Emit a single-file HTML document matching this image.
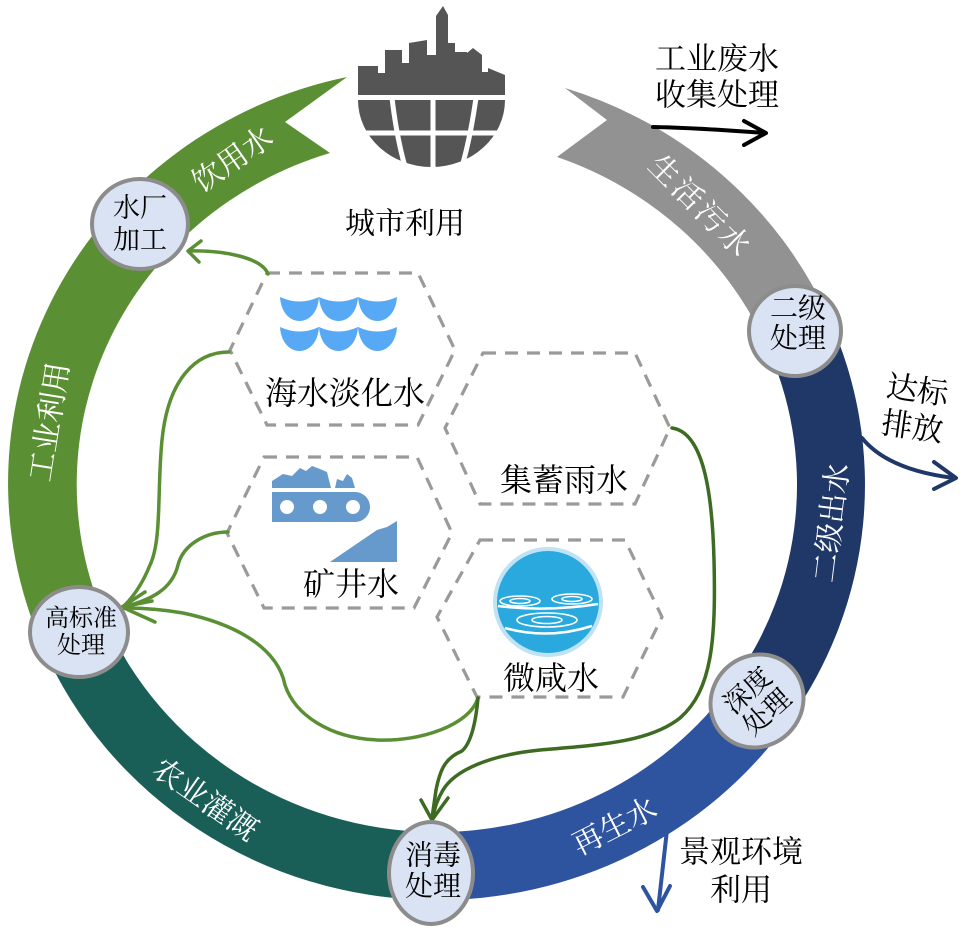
<!DOCTYPE html>
<html><head><meta charset="utf-8"><style>
html,body{margin:0;padding:0;background:#fff;}
svg{display:block;}
text{font-family:"Liberation Serif","Noto Serif CJK SC",serif;}
</style></head><body>
<svg width="968" height="932" viewBox="0 0 968 932" xmlns="http://www.w3.org/2000/svg">
<!-- ring segments -->
<path d="M565,88 A428,415 0 0 1 828,316.2 L765.9,343.9 A360,347 0 0 0 557,157 L607,120 Z" fill="#929292"/>
<path d="M828,316.2 A428,415 0 0 1 788,722.4 L732.3,683.5 A360,347 0 0 0 765.9,343.9 Z" fill="#1f3868"/>
<path d="M788,722.4 A428,415 0 0 1 430.3,900 L431.3,832 A360,347 0 0 0 732.3,683.5 Z" fill="#2e54a0"/>
<path d="M430.3,900 A428,415 0 0 1 43,647.1 L105.6,620.6 A360,347 0 0 0 431.3,832 Z" fill="#1a5e58"/>
<path d="M43,647.1 A428,415 0 0 1 347,77 L285,122 L330,153 A360,347 0 0 0 105.6,620.6 Z" fill="#5a8f33"/>

<!-- band labels -->
<g fill="#fff" font-size="30">
<text x="233" y="160" text-anchor="middle" dominant-baseline="central" transform="rotate(-35 233 160)">饮用水</text>
<text x="50" y="422" text-anchor="middle" dominant-baseline="central" transform="rotate(-81 50 422)">工业利用</text>
<text x="205" y="800" text-anchor="middle" dominant-baseline="central" transform="rotate(35 205 800)">农业灌溉</text>
<text x="615" y="827" text-anchor="middle" dominant-baseline="central" transform="rotate(-27 615 827)">再生水</text>
<text x="832" y="523" text-anchor="middle" dominant-baseline="central" transform="rotate(-83 832 523)">二级出水</text>
<text x="700" y="207" text-anchor="middle" dominant-baseline="central" letter-spacing="3" transform="rotate(45 700 207)">生活污水</text>
</g>

<!-- city icon -->
<g fill="#555">
<polygon points="358,95 358,66 378,66 378,73 385,73 385,50 402,50 402,63 409,63 409,43 427,40 427,55 436,55 436,16 443,6 448,15 448,43 455,43 455,52 467,52 467,53 473,48 482,55 482,72 488,72 488,68 505,75 505,95"/>
<path d="M358,100 L505,100 A73.5,67 0 0 1 358,100 Z"/>
</g>
<g stroke="#fff" stroke-width="5" fill="none">
<line x1="355" y1="133" x2="508" y2="133"/>
<line x1="433" y1="98" x2="433" y2="170"/>
<path d="M392,98 Q397,140 406,170"/>
<path d="M476,98 Q470,140 461,170"/>
</g>
<text x="405" y="224" font-size="30" text-anchor="middle" dominant-baseline="central" fill="#000">城市利用</text>

<!-- hexagons -->
<g fill="none" stroke="#9a9a9a" stroke-width="3.2" stroke-dasharray="13 9">
<polygon points="267,273 418,273 455,350 418,425 267,425 230,350"/>
<polygon points="264,457 417,457 452,533 414,608 264,608 227,533"/>
<polygon points="483,353 635,353 670,428 635,504 480,504 445,428"/>
<polygon points="480,540 625,540 662,617 623,697 477,697 437,617"/>
</g>

<!-- wave icon -->
<g fill="#58a9f5">
<path d="M280,297 Q299.5,306 319,297 C317,329 282,329 280,297 Z"/>
<path d="M319,297 Q338.5,306 358,297 C356,329 321,329 319,297 Z"/>
<path d="M358,297 Q377.5,306 397,297 C395,329 360,329 358,297 Z"/>
<path d="M280,327 Q299.5,336 319,327 C317,359 282,359 280,327 Z"/>
<path d="M319,327 Q338.5,336 358,327 C356,359 321,359 319,327 Z"/>
<path d="M358,327 Q377.5,336 397,327 C395,359 360,359 358,327 Z"/>
</g>

<!-- mine icon -->
<g fill="#6699cc">
<polygon points="272,488 272,481 283,474 292,476 300,468 306,471 312,466 320,469 327,472 331,488"/>
<polygon points="335,488 337,479 343,481 347,474 352,478 355,488"/>
<path d="M272,492 L355,492 A15,15 0 0 1 355,522 L272,522 Z"/>
<polygon points="330,562 377,530 387,527 397,521 397,562"/>
</g>
<g fill="#fff">
<circle cx="287" cy="507" r="7"/>
<circle cx="320" cy="507" r="7"/>
<circle cx="353" cy="507" r="7"/>
</g>

<!-- brackish icon -->
<circle cx="548" cy="602" r="55" fill="#bfe2f4"/>
<circle cx="548" cy="602" r="51" fill="#29a9dd"/>
<g fill="none" stroke="#fff" stroke-width="1.6">
<ellipse cx="520" cy="601" rx="20" ry="5"/>
<ellipse cx="520" cy="601" rx="10" ry="2.5"/>
<ellipse cx="572" cy="599" rx="20" ry="5"/>
<ellipse cx="572" cy="599" rx="10" ry="2.5"/>
<ellipse cx="547" cy="620" rx="30" ry="7"/>
<ellipse cx="547" cy="620" rx="15" ry="3.5"/>
</g>
<path d="M498,606 Q548,612 598,604" fill="none" stroke="#fff" stroke-width="2.5"/>
<path d="M505,628 Q548,640 592,626" fill="none" stroke="#fff" stroke-width="2.5"/>

<!-- hex labels -->
<g font-size="32" fill="#000" text-anchor="middle">
<text x="345" y="393" dominant-baseline="central">海水淡化水</text>
<text x="351" y="584" dominant-baseline="central">矿井水</text>
<text x="564" y="480" dominant-baseline="central">集蓄雨水</text>
<text x="551" y="678" dominant-baseline="central">微咸水</text>
</g>

<!-- light green connectors -->
<g fill="none" stroke="#5a8f33" stroke-width="3.5" stroke-linecap="round" stroke-linejoin="round">
<path d="M268,274 C262,258 225,250 189,251"/>
<polyline points="201,241 188,251 199,262"/>
<path d="M229,352 C195,352 168,380 162,440 C157,490 162,540 150,565 C142,585 132,598 124,606"/>
<path d="M228,532 C205,532 183,545 178,565 C172,590 150,600 124,607"/>
<path d="M478,698 C470,725 420,742 377,740 C330,738 295,715 285,685 C278,650 240,625 183,613 C160,609 140,608 124,608"/>
<polyline points="145,592 122,607 155,622"/>
<polyline points="122,607 152,601"/>
</g>
<!-- dark green connectors -->
<g fill="none" stroke="#3d6b22" stroke-width="3.5" stroke-linecap="round" stroke-linejoin="round">
<path d="M478,698 C476,720 472,742 462,751 C445,758 440,770 436,790 L432,818"/>
<path d="M672,428 C700,432 712,480 714,560 C716,640 712,690 680,718 C650,742 600,745 540,750 C490,755 455,770 443,790 C437,800 434,810 433,818"/>
<polyline points="421,800 432,820 448,798"/>
</g>

<!-- nodes -->
<g fill="#dae3f3" stroke="#8c8c8c" stroke-width="4">
<ellipse cx="140" cy="224" rx="48" ry="45"/>
<ellipse cx="79" cy="632" rx="49" ry="45"/>
<ellipse cx="431" cy="873" rx="42" ry="51"/>
<ellipse cx="757" cy="701" rx="48" ry="45" transform="rotate(-45 757 701)"/>
<ellipse cx="795" cy="331" rx="46" ry="45"/>
</g>
<g fill="#000" text-anchor="middle">
<text x="140" y="208" font-size="27" dominant-baseline="central">水厂</text>
<text x="140" y="240" font-size="27" dominant-baseline="central">加工</text>
<text x="81" y="619" font-size="24" dominant-baseline="central">高标准</text>
<text x="81" y="646" font-size="24" dominant-baseline="central">处理</text>
<text x="433" y="856" font-size="28" dominant-baseline="central">消毒</text>
<text x="433" y="887" font-size="28" dominant-baseline="central">处理</text>
<text x="798" y="309" font-size="28" dominant-baseline="central">二级</text>
<text x="798" y="339" font-size="28" dominant-baseline="central">处理</text>
<g transform="rotate(-42 757 701)">
<text x="757" y="687" font-size="27" dominant-baseline="central">深度</text>
<text x="757" y="716" font-size="27" dominant-baseline="central">处理</text>
</g>
</g>

<!-- outside arrows -->
<g fill="none" stroke-width="4" stroke-linecap="round" stroke-linejoin="round">
<path d="M653,127 Q700,128 764,133" stroke="#000"/>
<polyline points="744,121 766,133 744,145" stroke="#000"/>
<path d="M862,438 Q888,470 954,478" stroke="#1f3868"/>
<polyline points="934,462 956,478 934,489" stroke="#1f3868"/>
<path d="M667,830 L658,910" stroke="#2e54a0"/>
<polyline points="643,887 657,911 670,886" stroke="#2e54a0"/>
</g>
<g fill="#000" text-anchor="middle" font-size="31">
<text x="717" y="59" dominant-baseline="central">工业废水</text>
<text x="717" y="95" dominant-baseline="central">收集处理</text>
<g transform="rotate(8 915 408)">
<text x="915" y="390" dominant-baseline="central">达标</text>
<text x="915" y="427" dominant-baseline="central">排放</text>
</g>
<text x="741" y="852" dominant-baseline="central">景观环境</text>
<text x="741" y="890" dominant-baseline="central">利用</text>
</g>
</svg>
</body></html>
